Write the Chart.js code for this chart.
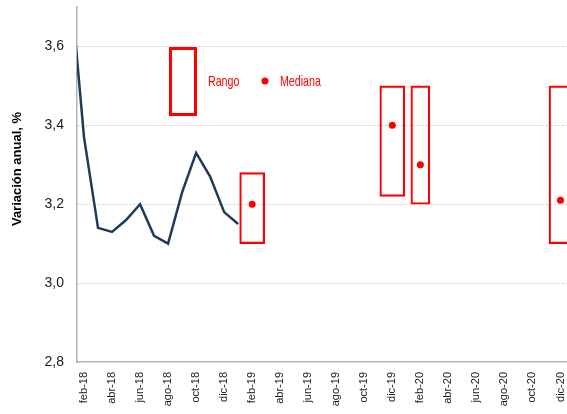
<!DOCTYPE html>
<html><head><meta charset="utf-8">
<script src="https://cdn.jsdelivr.net/npm/chart.js@4/dist/chart.umd.min.js"></script>
<style>html,body{margin:0;padding:0;background:#fff;overflow:hidden}#wrap{width:567px;height:414px;overflow:hidden}</style>
</head><body>
<div id="wrap"><canvas id="c" width="571" height="414"></canvas></div>
<script>
// ---- data ----
const months = ['ene-18','feb-18','mar-18','abr-18','may-18','jun-18','jul-18','ago-18','sep-18','oct-18','nov-18','dic-18',
                'ene-19','feb-19','mar-19','abr-19','may-19','jun-19','jul-19','ago-19','sep-19','oct-19','nov-19','dic-19',
                'ene-20','feb-20','mar-20','abr-20','may-20','jun-20','jul-20','ago-20','sep-20','oct-20','nov-20','dic-20'];
const tickLabels = ['feb-18','abr-18','jun-18','ago-18','oct-18','dic-18','feb-19','abr-19','jun-19','ago-19','oct-19','dic-19',
                    'feb-20','abr-20','jun-20','ago-20','oct-20','dic-20'];
const lineMonths = ['ene-18','feb-18','mar-18','abr-18','may-18','jun-18','jul-18','ago-18','sep-18','oct-18','nov-18','dic-18','ene-19'];
const lineValues = [3.77,3.37,3.14,3.13,3.16,3.20,3.12,3.10,3.23,3.33,3.27,3.18,3.15];
const rangeMonths = ['feb-19','dic-19','feb-20','dic-20'];
const rangeLow  = [3.10,3.22,3.20,3.10];
const rangeHigh = [3.28,3.50,3.50,3.50];
const medianValues = [3.20,3.40,3.30,3.21];
const yTicks = [2.8,3.0,3.2,3.4,3.6];
const legendLabels = ['Rango','Mediana'];
const axisTitle = 'Variación anual, %';

// ---- styles ----
const RED = '#ff0000';
const LINE = '#1f3b5a';
const boxWidths = [25,25,19,23];

const datasets = [];
rangeMonths.forEach((m,i)=>{
  datasets.push({
    type:'bar',
    data:[{x: months.indexOf(m), y:[rangeLow[i], rangeHigh[i]]}],
    barThickness: boxWidths[i],
    backgroundColor:'rgba(0,0,0,0)',
    borderColor: RED,
    borderWidth: 1.5,
    borderSkipped: false,
    grouped: false,
    order: 2
  });
});
datasets.push({
  type:'line',
  data: lineMonths.map((m,i)=>({x: months.indexOf(m), y: lineValues[i]})),
  borderColor: LINE,
  borderWidth: 2.5,
  pointRadius: 0,
  tension: 0,
  clip: 0,
  order: 1
});
datasets.push({
  type:'scatter',
  data: rangeMonths.map((m,i)=>({x: months.indexOf(m), y: medianValues[i]})),
  pointRadius: 3.5,
  pointHoverRadius: 3.5,
  backgroundColor: RED,
  borderWidth: 0,
  order: 0
});

const legendPlugin = {
  id:'customLegend',
  afterDraw(chart){
    const ctx = chart.ctx;
    ctx.save();
    // legend
    ctx.strokeStyle = RED;
    ctx.lineWidth = 3;
    ctx.strokeRect(170.5, 48.5, 25, 66);
    ctx.fillStyle = RED;
    ctx.font = '15px "Liberation Sans", Arial, sans-serif';
    ctx.textBaseline = 'middle';
    ctx.textAlign = 'left';
    const txt = (t, x, y) => { ctx.save(); ctx.translate(x, y); ctx.scale(0.71, 1); ctx.fillText(t, 0, 0); ctx.restore(); };
    txt(legendLabels[0], 208, 82);
    ctx.beginPath();
    ctx.arc(265, 81, 3.5, 0, Math.PI*2);
    ctx.fill();
    txt(legendLabels[1], 280, 82);
    // axis title
    ctx.fillStyle = '#000';
    ctx.font = 'bold 13px "Liberation Sans", Arial, sans-serif';
    ctx.textAlign = 'center';
    ctx.translate(17.5, 169);
    ctx.rotate(-Math.PI/2);
    ctx.fillText(axisTitle, 0, 0);
    ctx.restore();
  }
};

const noPad = s => { s.paddingTop = 0; s.paddingBottom = 0; s.paddingLeft = 0; s.paddingRight = 0; };

new Chart(document.getElementById('c'), {
  data: { datasets },
  options: {
    responsive: false,
    animation: false,
    devicePixelRatio: 1,
    layout: { padding: { top: 7, right: 0, left: 0, bottom: 0 } },
    plugins: { legend: { display: false }, tooltip: { enabled: false } },
    scales: {
      x: {
        type: 'linear',
        offset: false,
        min: 0.5, max: 35.5,
        afterBuildTicks: s => { s.ticks = tickLabels.map(l => ({ value: months.indexOf(l) })); },
        afterFit: s => { s.height = 52; noPad(s); },
        ticks: {
          autoSkip: false, minRotation: 90, maxRotation: 90,
          callback: v => months[v],
          font: { family: '"Liberation Sans", Arial, sans-serif', size: 11 },
          color: '#1a1a1a',
          padding: 10
        },
        grid: { display: false, drawTicks: false, offset: false },
        border: { color: '#b3b3b3', width: 1.5 }
      },
      y: {
        type: 'linear',
        min: 2.8, max: 3.7,
        afterBuildTicks: s => { s.ticks = yTicks.map(v => ({ value: v })); },
        afterFit: s => { s.width = 77; noPad(s); },
        ticks: {
          callback: v => v.toFixed(1).replace('.', ','),
          font: { family: '"Liberation Sans", Arial, sans-serif', size: 14 },
          color: '#1a1a1a',
          padding: 13
        },
        grid: {
          drawTicks: false,
          lineWidth: 1,
          color: ctx => (ctx.tick && Math.abs(ctx.tick.value - 2.8) < 1e-6) ? 'rgba(0,0,0,0)' : '#cfcfcf'
        },
        border: { color: '#b3b3b3', width: 1.5, dash: [2, 2] },
        title: { display: false }
      }
    }
  },
  plugins: [legendPlugin]
});
</script>
</body></html>
